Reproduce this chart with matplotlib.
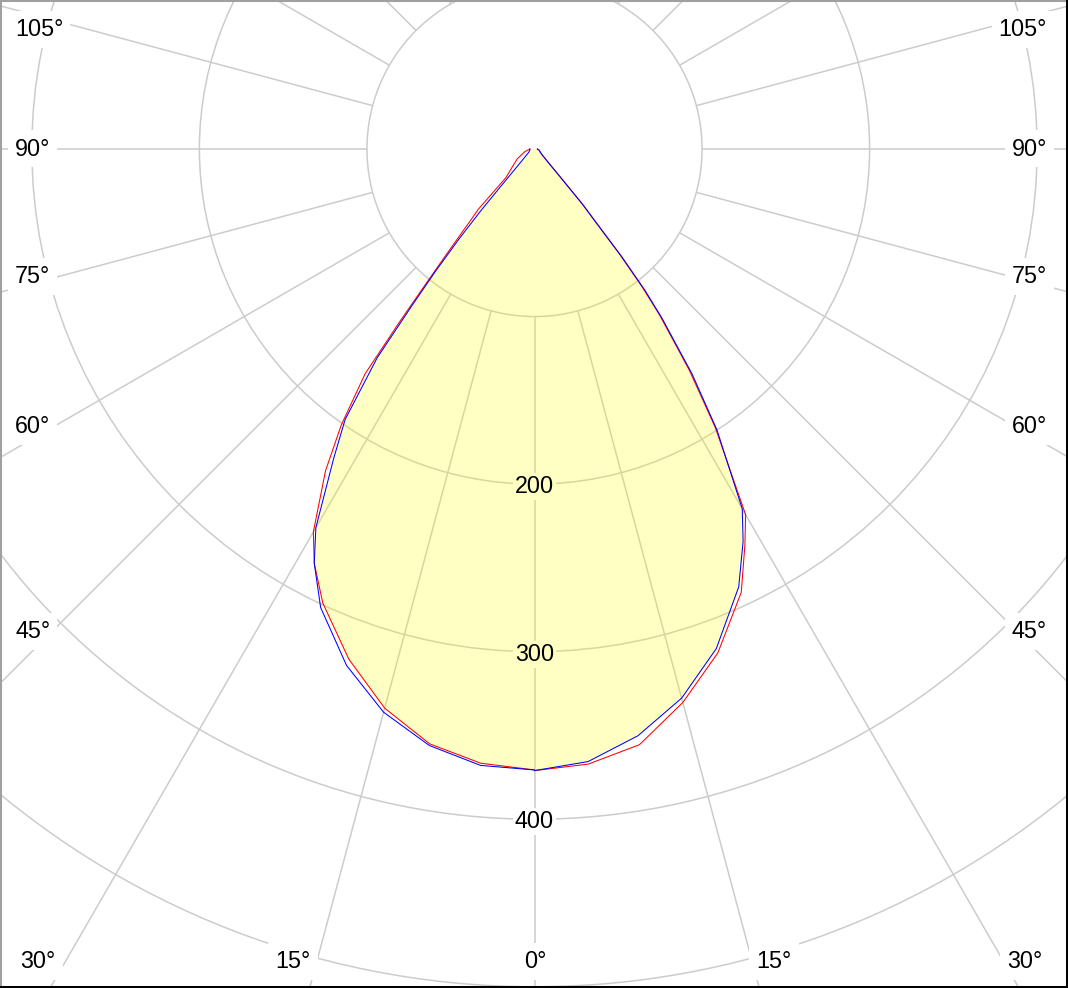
import numpy as np
import matplotlib
matplotlib.use("Agg")
import matplotlib.pyplot as plt
from matplotlib.patches import Circle, Polygon
from matplotlib.lines import Line2D

# ---------------- data (polar intensity, cd) ----------------
gamma = [0, 5, 10, 15, 20, 25, 28, 30, 33, 35, 37, 38, 39, 40, 41, 42, 43, 45, 50, 60, 75, 90]
red_left = [370.6, 368, 360.5, 345.5, 324, 299, 280, 264, 229, 201, 168, 130, 100, 80, 66, 56, 49, 24, 18, 12, 6, 2.7]
blue_left = [370.6, 369.3, 361.5, 348, 328, 302, 280, 261, 220, 197, 156, 120, 94, 70, 49, 31, 22, 14, 7.5, 4, 3, 2.7]
red_right = [371, 368.5, 361, 342, 320, 292, 267.5, 252, 198, 161, 124, 104, 80, 55, 43, 27, 20, 12.5, 7, 4, 3, 1.7]
blue_right = [371, 367, 355.6, 339.3, 317.3, 288.4, 265.2, 248, 200, 164, 126.4, 107, 83, 57, 44, 28, 21, 13, 7, 4, 3, 1.7]

circle_values = [100, 200, 300, 400, 500]
circle_labels = [200, 300, 400]
spoke_angles = list(range(0, 360, 15))
side_label_angles = [105, 90, 75, 60, 45]
bottom_label_angles = [30, 15, 0, 15, 30]

# ---------------- layout ----------------
W, H, DPI = 1068, 988, 100
cx, cy = 534.5, 149.0          # pole position in pixels
scale = 1.6755                 # pixels per cd
fig = plt.figure(figsize=(W / DPI, H / DPI), dpi=DPI)
ax = fig.add_axes([0, 0, 1, 1])
ax.set_xlim(-cx / scale, (W - cx) / scale)
ax.set_ylim(-(H - cy) / scale, cy / scale)
ax.axis('off')

FONT = 'Liberation Sans'
FS = 16.8
grid_c = '#CCCCCC'
fill_rgb = np.array([1.0, 1.0, 0.0])
fill_alpha = 0.23
blend = tuple((1 - fill_alpha) * np.ones(3) + fill_alpha * fill_rgb)


def pol(r, a_deg, side):
    a = np.radians(np.asarray(a_deg, dtype=float))
    r = np.asarray(r, dtype=float)
    return side * r * np.sin(a), -r * np.cos(a)


# grid circles
for rv in circle_values:
    ax.add_patch(Circle((0, 0), rv, fill=False, ec=grid_c, lw=1.1, zorder=1))
# spokes (start at the first circle)
for a in spoke_angles:
    x, y = pol([circle_values[0], 800], [a, a], 1)
    ax.plot(x, y, color=grid_c, lw=1.1, zorder=1, solid_capstyle='butt')

# fill = common area of both planes
g = np.array(gamma, dtype=float)
fl = np.minimum(red_left, blue_left)
fr = np.minimum(red_right, blue_right)
xl, yl = pol(fl, g, -1)
xr, yr = pol(fr, g, 1)
px = np.concatenate([xl[::-1], xr])
py = np.concatenate([yl[::-1], yr])
ax.add_patch(Polygon(np.column_stack([px, py]), closed=True, fc=fill_rgb,
                     alpha=fill_alpha, ec='none', zorder=2))

# curves
for left, right, col in [(red_left, red_right, '#FF0000'), (blue_left, blue_right, '#0000FF')]:
    xl, yl = pol(left, g, -1)
    xr, yr = pol(right, g, 1)
    ax.plot(np.concatenate([xl[::-1], xr]), np.concatenate([yl[::-1], yr]),
            color=col, lw=0.75, zorder=4)

# radial value labels on the 0° axis
for rv in circle_labels:
    inside = rv < min(fl[0], fr[0])
    ax.text(0, -rv - 1.5, str(rv), ha='center', va='center', fontsize=FS, family=FONT,
            color='black', zorder=5,
            bbox=dict(boxstyle='square,pad=0.08', fc=blend if inside else 'white', ec='none'))

# angle labels (positions in pixels along the frame)
side_y = [30, 149, 276, 426, 631]
for a, yp in zip(side_label_angles, side_y):
    for xp, ha in [(15, 'left'), (1047, 'right')]:
        ax.text(xp / W, 1 - yp / H, f"{a}°", transform=ax.transAxes, ha=ha, va='center',
                fontsize=FS, family=FONT, zorder=5,
                bbox=dict(boxstyle='square,pad=0.3', fc='white', ec='none'))
bottom_x = [38, 293, 535, 774, 1025]
for a, xp in zip(bottom_label_angles, bottom_x):
    ax.text(xp / W, 1 - 961 / H, f"{a}°", transform=ax.transAxes, ha='center', va='center',
            fontsize=FS, family=FONT, zorder=5,
            bbox=dict(boxstyle='square,pad=0.3', fc='white', ec='none'))

# sunken frame
for xs, ys, c in [([0, 0], [0, 1], '#A0A0A0'), ([0, 1], [1, 1], '#A0A0A0'),
                  ([1, 1], [0, 1], '#000000'), ([0, 1], [0, 0], '#000000')]:
    fig.add_artist(Line2D(xs, ys, transform=fig.transFigure, color=c, lw=2.9, zorder=10))

fig.savefig('out.png', dpi=DPI)
